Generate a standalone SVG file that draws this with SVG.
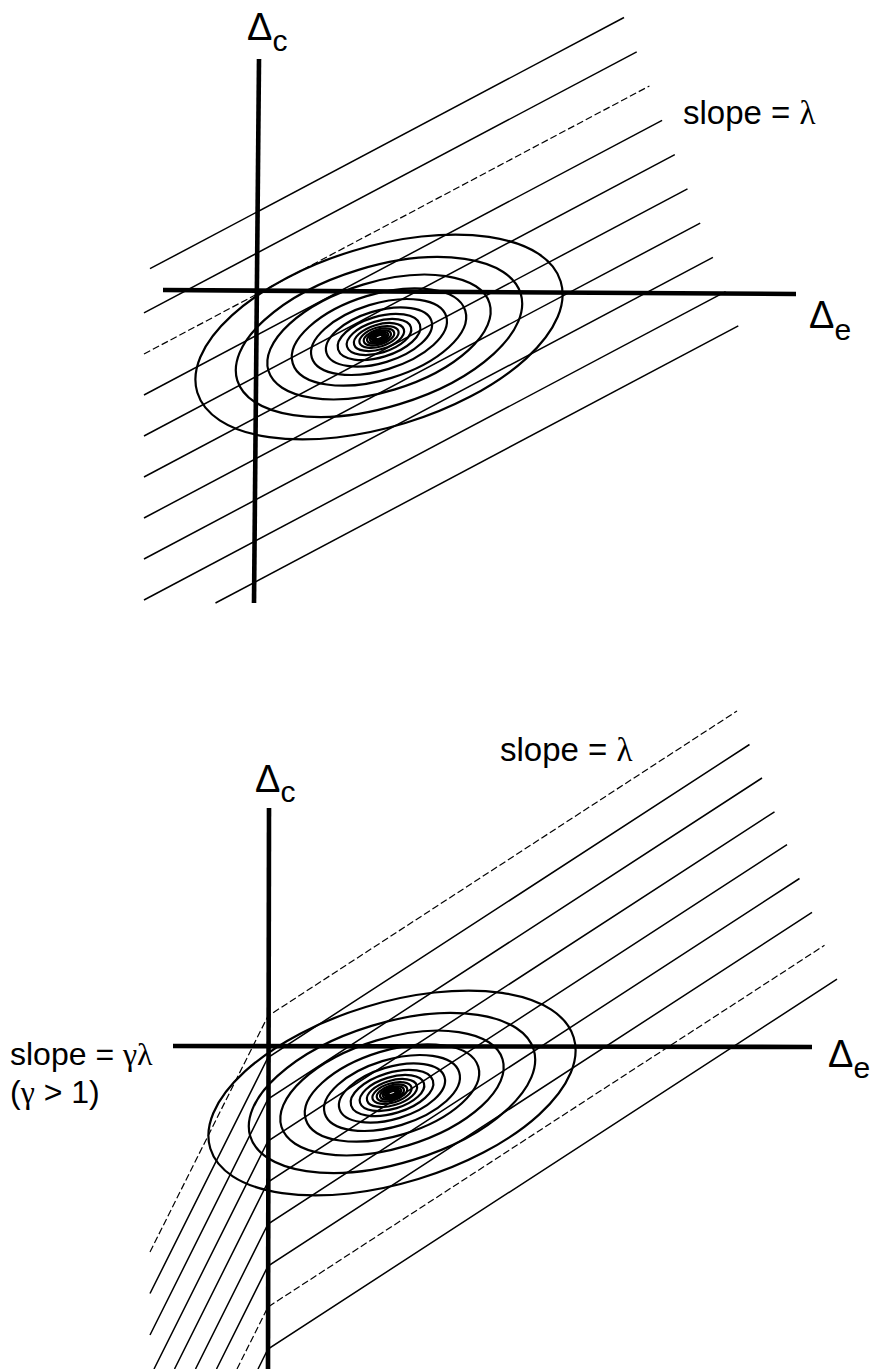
<svg xmlns="http://www.w3.org/2000/svg" width="874" height="1369" viewBox="0 0 874 1369">
<style>
.bg{fill:#fff}
.axis{stroke:#000;stroke-width:4.6;stroke-linecap:butt;fill:none}
.ln{stroke:#000;stroke-width:1.5;fill:none}
.dl{stroke:#000;stroke-width:1.2;fill:none;stroke-dasharray:7 3}
.el{stroke:#000;stroke-width:2.2;fill:none}
.t{font-family:"Liberation Sans",Arial,sans-serif;fill:#000}
.g{font-family:"Liberation Serif","Times New Roman",serif}
</style>
<rect class="bg" x="0" y="0" width="874" height="1369"/>

<!-- TOP PANEL -->
<g id="top-lines">
<line class="ln" x1="150" y1="268.7" x2="624" y2="17.5"/>
<line class="ln" x1="144" y1="312.9" x2="636.7" y2="51.8"/>
<line class="dl" x1="144" y1="354" x2="649.4" y2="86"/>
<line class="ln" x1="144" y1="395" x2="662.1" y2="120.3"/>
<line class="ln" x1="144" y1="436" x2="674.8" y2="154.6"/>
<line class="ln" x1="144" y1="477" x2="687.5" y2="188.8"/>
<line class="ln" x1="144" y1="518" x2="700.2" y2="223.1"/>
<line class="ln" x1="144" y1="559" x2="712.9" y2="257.4"/>
<line class="ln" x1="144" y1="600" x2="725.6" y2="291.6"/>
<line class="ln" x1="215.5" y1="603" x2="738.3" y2="325.9"/>
</g>
<g id="top-contours" transform="translate(379,337) rotate(-17)">
<ellipse class="el" rx="190" ry="90"/>
<ellipse class="el" rx="148.2" ry="70.2"/>
<ellipse class="el" rx="115.6" ry="54.8"/>
<ellipse class="el" rx="90.2" ry="42.7"/>
<ellipse class="el" rx="70.3" ry="33.3"/>
<ellipse class="el" rx="54.9" ry="26"/>
<ellipse class="el" rx="42.8" ry="20.3"/>
<ellipse class="el" rx="33.4" ry="15.8"/>
<ellipse class="el" rx="26" ry="12.3"/>
<ellipse class="el" rx="20.3" ry="9.6"/>
<ellipse class="el" rx="15.8" ry="7.5"/>
<ellipse class="el" rx="12.4" ry="5.9"/>
<ellipse class="el" rx="9.6" ry="4.6"/>
<ellipse class="el" rx="7.5" ry="3.6"/>
<ellipse class="el" rx="5.9" ry="2.8"/>
<ellipse class="el" rx="4.6" ry="2.2"/>
<ellipse class="el" rx="3.6" ry="1.7"/>
</g>
<g id="top-axes">
<line class="axis" x1="259" y1="59" x2="254" y2="603"/>
<line class="axis" x1="163" y1="290" x2="796" y2="294"/>
</g>
<g id="top-labels">
<text class="t" x="247" y="40" font-size="38">Δ<tspan font-size="30" dy="11">c</tspan></text>
<text class="t" x="809" y="328" font-size="38">Δ<tspan font-size="30" dy="12">e</tspan></text>
<text class="t" x="683" y="124" font-size="33">slope = <tspan class="g">λ</tspan></text>
</g>

<!-- BOTTOM PANEL -->
<g id="bottom-lines">
<polyline class="dl" points="150,1252 268,1016 737,711"/>
<polyline class="ln" points="150,1293.5 268,1057.5 749.5,744.5"/>
<polyline class="ln" points="150,1335 268,1099 762,778"/>
<polyline class="ln" points="154,1369 268,1141 774.5,811.8"/>
<polyline class="ln" points="174.5,1369 268,1182 787,844.7"/>
<polyline class="ln" points="195.5,1369 268,1224 799.5,878.5"/>
<polyline class="ln" points="216.5,1369 268,1266 812,912.4"/>
<polyline class="dl" points="237,1369 268,1307 824.5,945.3"/>
<polyline class="ln" points="258,1369 268,1349 837,979.2"/>
</g>
<g id="bottom-contours" transform="translate(392,1093) rotate(-17)">
<ellipse class="el" rx="190" ry="90"/>
<ellipse class="el" rx="148.2" ry="70.2"/>
<ellipse class="el" rx="115.6" ry="54.8"/>
<ellipse class="el" rx="90.2" ry="42.7"/>
<ellipse class="el" rx="70.3" ry="33.3"/>
<ellipse class="el" rx="54.9" ry="26"/>
<ellipse class="el" rx="42.8" ry="20.3"/>
<ellipse class="el" rx="33.4" ry="15.8"/>
<ellipse class="el" rx="26" ry="12.3"/>
<ellipse class="el" rx="20.3" ry="9.6"/>
<ellipse class="el" rx="15.8" ry="7.5"/>
<ellipse class="el" rx="12.4" ry="5.9"/>
<ellipse class="el" rx="9.6" ry="4.6"/>
<ellipse class="el" rx="7.5" ry="3.6"/>
<ellipse class="el" rx="5.9" ry="2.8"/>
<ellipse class="el" rx="4.6" ry="2.2"/>
<ellipse class="el" rx="3.6" ry="1.7"/>
</g>
<g id="bottom-axes">
<line class="axis" x1="269" y1="808" x2="268" y2="1369"/>
<line class="axis" x1="173" y1="1046" x2="812" y2="1047"/>
</g>
<g id="bottom-labels">
<text class="t" x="255" y="792" font-size="38">Δ<tspan font-size="30" dy="10">c</tspan></text>
<text class="t" x="828" y="1067" font-size="38">Δ<tspan font-size="30" dy="11">e</tspan></text>
<text class="t" x="500" y="761" font-size="33">slope = <tspan class="g">λ</tspan></text>
<text class="t" x="10" y="1065" font-size="32">slope = <tspan class="g">γλ</tspan></text>
<text class="t" x="10" y="1103" font-size="32">(<tspan class="g">γ</tspan> &gt; 1)</text>
</g>
</svg>
